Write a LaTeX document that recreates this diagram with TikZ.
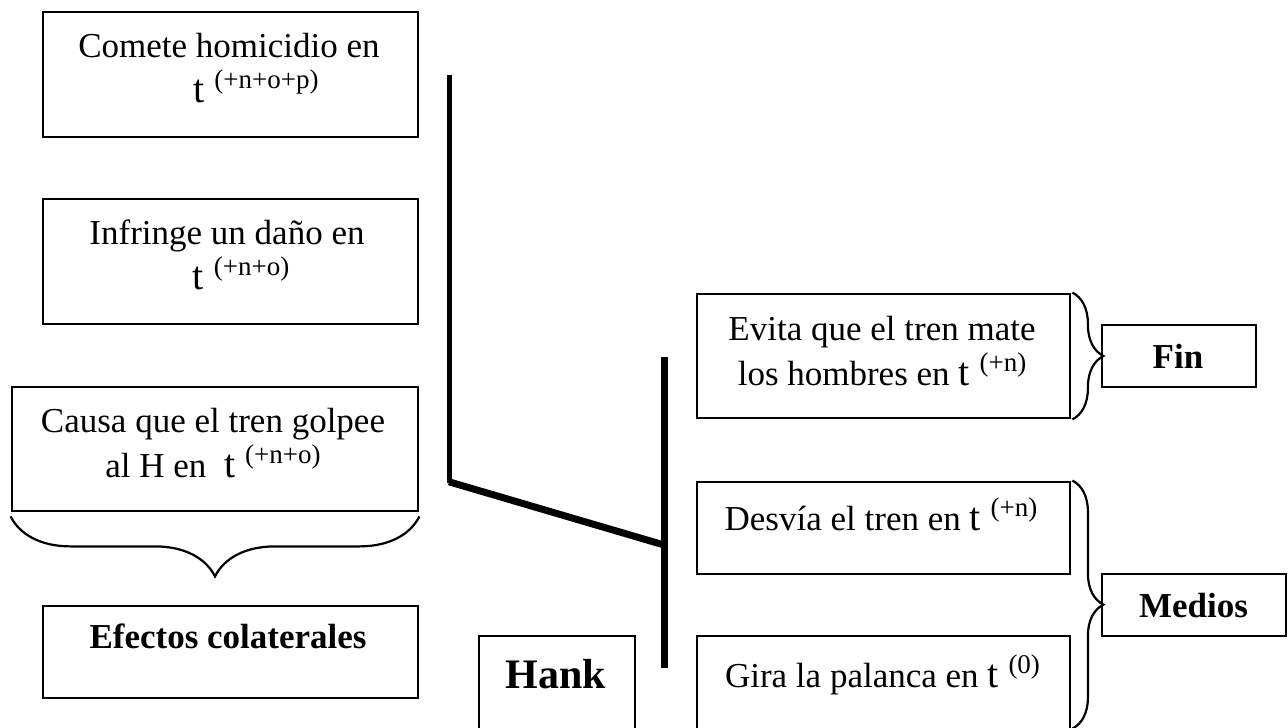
\documentclass[tikz,border=0pt]{standalone}
\usepackage{fontspec}
\setmainfont{Liberation Serif}
\usetikzlibrary{decorations.pathreplacing}
\newcommand{\tsup}[1]{{\fontsize{20}{20}\selectfont t}\hspace{5pt}\raisebox{7pt}{\fontsize{13.5}{13.5}\selectfont #1}}

\begin{document}
\begin{tikzpicture}[x=0.5pt,y=-0.5pt,
    box/.style={draw,line width=1.4pt,inner sep=0pt},
    txt/.style={anchor=base,align=center,inner sep=0pt,font=\fontsize{17.5}{22.5}\selectfont},
    bold/.style={txt,font=\fontsize{17.5}{22.5}\selectfont\bfseries},
    brc/.style={decorate,decoration={brace,amplitude=#1},line width=1.1pt}]
    \useasboundingbox (0,0) rectangle (1288,727);
    \clip (0,0) rectangle (1288,727);
    % left column
    \node[box,minimum width=187.5pt,minimum height=62.5pt] (homicidio) at (230.5,74.5) {};
    \node[box,minimum width=187.5pt,minimum height=62.5pt] (dano) at (230.5,261.5) {};
    \node[box,minimum width=203pt,minimum height=62pt] (golpe) at (215,449) {};
    \node[box,minimum width=187.5pt,minimum height=46pt] (efectos) at (230.5,652) {};
    \node[txt] (homicidioT) at (229,103) {Comete homicidio en\\\hspace*{27pt}\tsup{(+n+o+p)}};
    \node[txt] (danoT) at (227,289) {Infringe un daño en\\\hspace*{14pt}\tsup{(+n+o)}};
    \node[txt] (golpeT) at (213,477) {Causa que el tren golpee\\al H en\ \ \tsup{(+n+o)}};
    \node[bold] (efectosT) at (228,648) {Efectos colaterales};
    \draw[brc=30pt] ([yshift=-2pt]golpe.south east) -- ([yshift=-2pt]golpe.south west);
    % right column
    \node[box,minimum width=186.5pt,minimum height=62pt] (evita) at (883.5,356) {};
    \node[box,minimum width=186.5pt,minimum height=46pt] (desvia) at (883.5,528) {};
    \node[box,minimum width=186.5pt,minimum height=62pt] (gira) at (883.5,698) {};
    \node[box,minimum width=78pt,minimum height=62pt] (hank) at (557,698) {};
    \node[box,minimum width=77pt,minimum height=31pt] (fin) at (1179,356) {};
    \node[box,minimum width=92pt,minimum height=31pt] (medios) at (1194,605) {};
    \node[txt] (evitaT) at (882,385) {Evita que el tren mate\\los hombres en \tsup{(+n)}};
    \node[txt] (desviaT) at (881,530) {Desvía el tren en \tsup{(+n)}};
    \node[txt] (giraT) at (882.5,687) {Gira la palanca en \tsup{(0)}};
    \node[bold,font=\fontsize{21}{22.5}\selectfont\bfseries] (hankT) at (556,688) {Hank};
    \node[bold] (finT) at (1178,368) {Fin};
    \node[bold] (mediosT) at (1193.5,617) {Medios};
    \draw[brc=15.5pt] ([xshift=0.5pt]evita.north east) -- ([xshift=0.5pt]evita.south east);
    \draw[brc=15.5pt] ([xshift=0.5pt]desvia.north east) -- ++(0,248);
    % tree lines
    \coordinate (ltop) at (449,75);
    \coordinate (lcorner) at (449,483);
    \coordinate (bjoin) at (664,545);
    \coordinate (btop) at (664,357);
    \coordinate (bbot) at (664,668);
    \draw[line width=2.5pt] (ltop) -- (lcorner);
    \draw[line width=3.5pt] ([yshift=0.6pt]lcorner) -- (bjoin);
    \draw[line width=3.5pt] (btop) -- (bbot);
\end{tikzpicture}
\end{document}
